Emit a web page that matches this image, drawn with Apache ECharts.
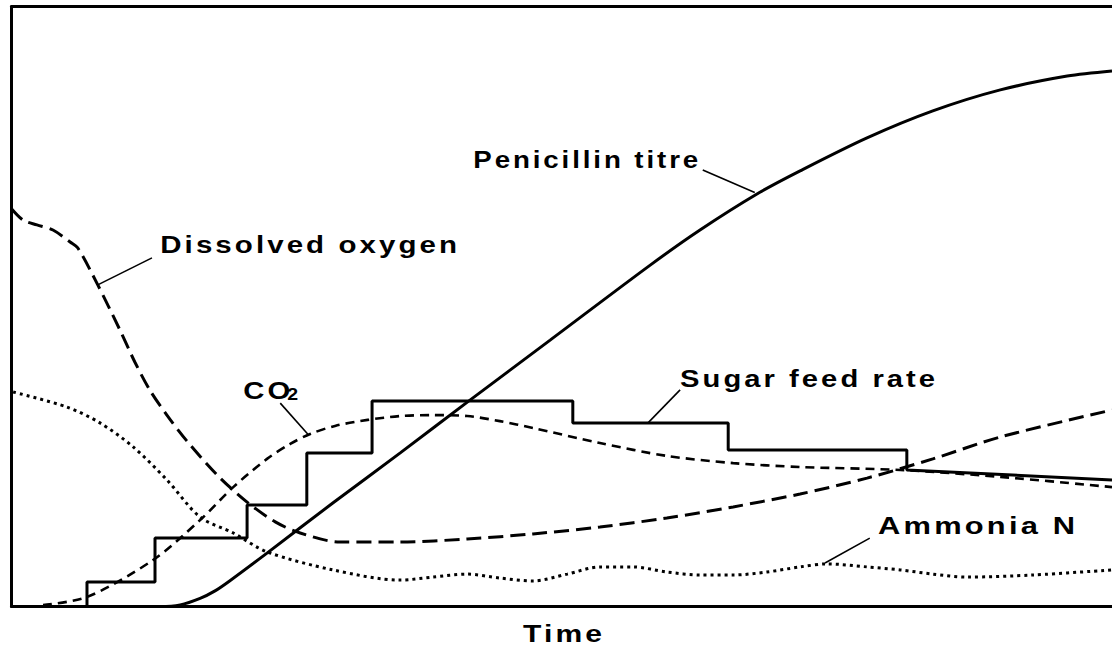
<!DOCTYPE html>
<html><head><meta charset="utf-8">
<script src="https://cdn.jsdelivr.net/npm/echarts@6/dist/echarts.min.js"></script>
<style>
html,body{margin:0;padding:0;background:#fff;}
#chart{width:1112px;height:647px;}
#chart text{letter-spacing:2.5px;}
</style></head><body>
<div id="chart"></div>
<script>
// ---- data (time in arbitrary units, levels in relative % 0..100) ----
const penicillinTime  = [0, 26.9, 30.5, 34.1, 36.8, 39.5, 46.2, 58.1, 70.3, 82.9, 97.4, 115.5, 124.5, 134.8, 142.6, 154.7, 166.6, 178.8, 190.9, 199];
const penicillinTitre = [0, 0, 0.27, 1.35, 2.6, 4.3, 8.9, 17.25, 25.6, 34.4, 44.4, 56.9, 62.75, 68.75, 72.6, 78.1, 82.6, 86.1, 88.4, 89.25];

const oxygenTime  = [0, 2.1, 4.6, 7.5, 10.6, 12.0, 15.6, 19.6, 22.3, 25.0, 28.1, 31.7, 37.2, 42.6, 47.7, 52.2, 59.4, 70.3, 82.4, 94.3, 106.4, 118.5, 130.5, 142.6, 154.7, 166.6, 178.8, 199];
const oxygenLevel = [66.3, 64.4, 63.6, 62.75, 60.75, 59.75, 53.6, 46.1, 40.75, 36.1, 31.9, 27.6, 21.9, 17.4, 14.1, 12.25, 10.75, 10.75, 11.25, 12.1, 13.25, 14.75, 16.6, 18.75, 21.4, 24.6, 28.25, 32.75];

const co2Time  = [5.7, 13.7, 25.6, 34.1, 40.1, 46.2, 50.4, 54.0, 58.5, 64.4, 70.3, 76.2, 82.4, 88.3, 94.3, 106.4, 118.5, 130.5, 142.6, 160.7, 178.8, 199];
const co2Level = [0.25, 1.6, 7.75, 14.4, 19.9, 24.6, 27.1, 28.75, 30.1, 31.1, 31.75, 31.9, 31.75, 30.9, 29.75, 27.25, 25.1, 23.9, 23.25, 22.75, 21.6, 19.9];

const sugarStepTime = [13.65, 25.95, 42.6, 53.4, 65.2, 101.5, 129.6, 161.9];
const sugarRate     = [4.1, 11.4, 16.9, 25.6, 34.25, 30.6, 26.1, 22.75];
const sugarEnd      = [199, 21.1];

const ammoniaTime  = [0.3, 10, 16, 22, 28.1, 34.1, 40.1, 46.2, 58.1, 70.3, 76.2, 82.4, 88.3, 94.3, 100.5, 106.4, 112.4, 118.5, 124.5, 130.5, 136.6, 142.6, 147.5, 154.7, 160.7, 166.6, 172.8, 184.7, 199];
const ammoniaLevel = [35.75, 33.25, 30.6, 26.6, 21.1, 14.9, 12.25, 9.1, 6.1, 4.4, 4.9, 5.4, 4.75, 4.25, 5.4, 6.6, 6.6, 5.75, 5.25, 5.25, 5.75, 6.6, 7.1, 6.6, 6.1, 5.4, 4.9, 5.25, 6.1];

const axisTitle = 'Time';

// ---- annotations (data coordinates) ----
const annotations = [
  {text: 'Penicillin titre', at: [83.5, 74.4],  width: 225, lead: [[125.0, 72.75], [134.4, 69.0]]},
  {text: 'Dissolved oxygen', at: [26.9, 60.25], width: 297, lead: [[25.4, 58.1], [15.6, 53.6]]},
  {text: 'CO{s|2}', plain: 'CO', at: [41.9, 35.9], width: 47, lead: [[48.6, 33.9], [53.6, 28.7]]},
  {text: 'Sugar feed rate',  at: [120.9, 38.0], width: 255, lead: [[120.9, 36.1], [115.1, 30.6]]},
  {text: 'Ammonia N',        at: [156.7, 13.4], width: 197, lead: [[155.2, 11.4], [147.1, 7.25]]},
  {text: axisTitle,          at: [92.5, -4.6],  width: 79,  lead: null}
];

const pairs = (t, v) => t.map((x, i) => [x, v[i]]);
const sugarPoints = [[0, 0]];
let prev = 0;
sugarStepTime.forEach((t, i) => { sugarPoints.push([t, prev]); sugarPoints.push([t, sugarRate[i]]); prev = sugarRate[i]; });
sugarPoints.push(sugarEnd);

const chart = echarts.init(document.getElementById('chart'), null, {renderer: 'svg', width: 1112, height: 647});

const base = {type: 'line', symbol: 'none', silent: true, animation: false, clip: true};
const series = [
  Object.assign({}, base, {name: 'Penicillin titre', data: pairs(penicillinTime, penicillinTitre), smooth: 0.3,
    lineStyle: {color: '#000', width: 3}}),
  Object.assign({}, base, {name: 'Dissolved oxygen', data: pairs(oxygenTime, oxygenLevel), smooth: 0.3,
    lineStyle: {color: '#000', width: 3, type: [15, 7]}}),
  Object.assign({}, base, {name: 'CO2', data: pairs(co2Time, co2Level), smooth: 0.3,
    lineStyle: {color: '#000', width: 2.6, type: [9, 6]}}),
  Object.assign({}, base, {name: 'Sugar feed rate', data: sugarPoints, smooth: false,
    lineStyle: {color: '#000', width: 3}}),
  Object.assign({}, base, {name: 'Ammonia N', data: pairs(ammoniaTime, ammoniaLevel), smooth: 0.3,
    lineStyle: {color: '#000', width: 3, type: [3, 4]}})
];
annotations.forEach(a => {
  if (!a.lead) return;
  series.push(Object.assign({}, base, {name: (a.plain || a.text) + ' leader', data: a.lead, clip: false,
    lineStyle: {color: '#000', width: 1.6}}));
});

const hiddenAxis = {axisTick: {show: false}, axisLabel: {show: false}, splitLine: {show: false}};
const blackLine = {show: true, onZero: false, lineStyle: {color: '#000', width: 3}};
chart.setOption({
  animation: false,
  backgroundColor: '#fff',
  grid: {left: 11.5, top: 6.5, right: 0, bottom: 40.5, show: false},
  xAxis: [
    Object.assign({type: 'value', min: 0, max: 199, position: 'bottom', axisLine: blackLine}, hiddenAxis),
    Object.assign({type: 'value', min: 0, max: 199, position: 'top', axisLine: blackLine}, hiddenAxis)
  ],
  yAxis: Object.assign({type: 'value', min: 0, max: 100, position: 'left', axisLine: blackLine}, hiddenAxis),
  series: series
});

const FAMILY = '"Liberation Sans", "DejaVu Sans", Arial, sans-serif';
const FONT = 'bold 24px ' + FAMILY;
function measure(text) {
  const s = document.createElement('span');
  s.style.cssText = 'position:absolute;left:0;top:0;visibility:hidden;white-space:pre;letter-spacing:2.5px;font:' + FONT;
  s.textContent = text;
  document.body.appendChild(s);
  const w = s.getBoundingClientRect().width - 2.5;
  s.remove();
  return w;
}
const graphics = annotations.map(a => {
  const p = chart.convertToPixel({xAxisIndex: 0, yAxisIndex: 0}, a.at);
  return {type: 'text', x: p[0], y: p[1], scaleX: a.width / measure(a.plain || a.text), originX: 0, originY: 0, silent: true,
    style: {text: a.text, font: FONT, fill: '#000', textAlign: 'left', textVerticalAlign: 'middle', verticalAlign: 'middle',
      rich: {s: {fontSize: 16, fontWeight: 'bold', fontFamily: FAMILY, verticalAlign: 'bottom', padding: [6, 0, 0, 0]}}}};
});
chart.setOption({graphic: graphics});
</script>
</body></html>
